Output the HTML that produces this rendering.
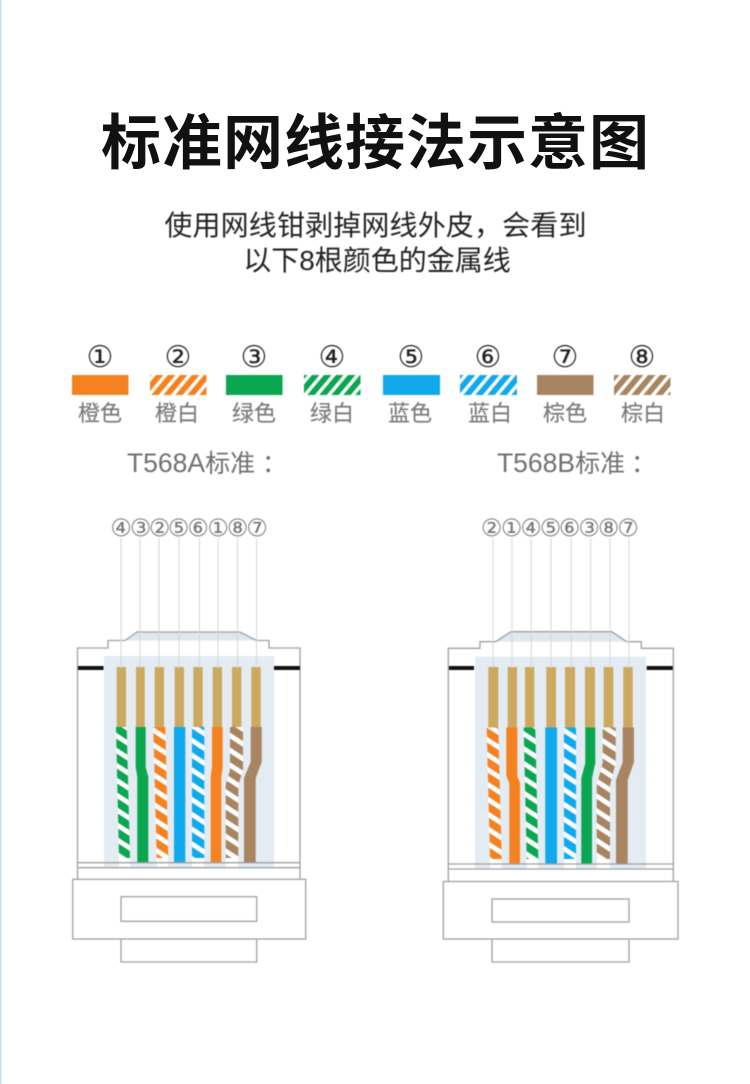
<!DOCTYPE html>
<html lang="zh">
<head>
<meta charset="utf-8">
<title>标准网线接法示意图</title>
<style>
html,body{margin:0;padding:0;background:#fff;width:750px;height:1084px;overflow:hidden}
svg{display:block}
text{font-family:"Liberation Sans","Noto Sans CJK SC",sans-serif}
.n{font-size:30px;fill:#222;text-anchor:middle;font-family:"DejaVu Sans","Noto Sans CJK SC",sans-serif}
.l{font-size:22px;fill:#7c7c7c;text-anchor:middle;stroke:#7c7c7c;stroke-width:.2}
.c{font-size:24px;fill:#777;text-anchor:middle;font-family:"DejaVu Sans","Noto Sans CJK SC",sans-serif}
.s{fill:none;stroke:#a0a0a0;stroke-width:1.3}
.t{stroke:#d6d6d6;stroke-width:1}
.g{fill:#cda85f}
.b{filter:blur(.45px)}
</style>
</head>
<body>
<svg width="750" height="1084" viewBox="0 0 750 1084" xmlns="http://www.w3.org/2000/svg">
<defs>
<pattern id="lo" width="12" height="20" patternUnits="userSpaceOnUse" patternTransform="translate(72,375) skewX(-40)"><rect width="12" height="20" fill="#fff"/><rect width="7.5" height="20" fill="#f58220"/></pattern>
<pattern id="lg" width="12" height="20" patternUnits="userSpaceOnUse" patternTransform="translate(72,375) skewX(-40)"><rect width="12" height="20" fill="#fff"/><rect width="7.5" height="20" fill="#0aa650"/></pattern>
<pattern id="lb" width="12" height="20" patternUnits="userSpaceOnUse" patternTransform="translate(72,375) skewX(-40)"><rect width="12" height="20" fill="#fff"/><rect width="7.5" height="20" fill="#10a9ec"/></pattern>
<pattern id="lr" width="12" height="20" patternUnits="userSpaceOnUse" patternTransform="translate(72,375) skewX(-40)"><rect width="12" height="20" fill="#fff"/><rect width="7.5" height="20" fill="#a88560"/></pattern>
<pattern id="wo" width="30" height="14.8" patternUnits="userSpaceOnUse" patternTransform="translate(100,728) skewY(33)"><rect width="30" height="9" fill="#f58220"/></pattern>
<pattern id="wg" width="30" height="14.8" patternUnits="userSpaceOnUse" patternTransform="translate(100,728) skewY(33)"><rect width="30" height="9" fill="#0aa650"/></pattern>
<pattern id="wb" width="30" height="14.8" patternUnits="userSpaceOnUse" patternTransform="translate(100,728) skewY(33)"><rect width="30" height="9" fill="#10a9ec"/></pattern>
<pattern id="wr" width="30" height="14.8" patternUnits="userSpaceOnUse" patternTransform="translate(100,728) skewY(33)"><rect width="30" height="9" fill="#a88560"/></pattern>
</defs>

<rect x="0" y="0" width="1.5" height="1084" fill="#c4dcf2"/>

<text x="375.5" y="164" text-anchor="middle" font-size="60" font-weight="700" fill="#111" letter-spacing="1">标准网线接法示意图</text>
<text class="b" x="375.5" y="235" text-anchor="middle" font-size="28" fill="#222" letter-spacing=".15">使用网线钳剥掉网线外皮，会看到</text>
<text class="b" x="377" y="270" text-anchor="middle" font-size="28" fill="#222">以下8根颜色的金属线</text>

<!-- legend -->
<g class="b">
<text class="n" x="100" y="367">①</text>
<text class="n" x="178" y="367">②</text>
<text class="n" x="254" y="367">③</text>
<text class="n" x="332" y="367">④</text>
<text class="n" x="411" y="367">⑤</text>
<text class="n" x="488" y="367">⑥</text>
<text class="n" x="565" y="367">⑦</text>
<text class="n" x="642" y="367">⑧</text>
<rect x="72" y="375" width="56.5" height="20" fill="#f58220"/>
<rect x="150" y="375" width="56.5" height="20" fill="url(#lo)"/>
<rect x="226" y="375" width="56.5" height="20" fill="#0aa650"/>
<rect x="304" y="375" width="56.5" height="20" fill="url(#lg)"/>
<rect x="383" y="375" width="57" height="20" fill="#10a9ec"/>
<rect x="460" y="375" width="57" height="20" fill="url(#lb)"/>
<rect x="537" y="375" width="56.5" height="20" fill="#a88560"/>
<rect x="614" y="375" width="56.5" height="20" fill="url(#lr)"/>
<text class="l" x="100" y="421">橙色</text>
<text class="l" x="177" y="421">橙白</text>
<text class="l" x="254" y="421">绿色</text>
<text class="l" x="332" y="421">绿白</text>
<text class="l" x="410" y="421">蓝色</text>
<text class="l" x="490" y="421">蓝白</text>
<text class="l" x="565" y="421">棕色</text>
<text class="l" x="643" y="421">棕白</text>

<text x="127" y="472" font-size="26.5" fill="#707070">T568A<tspan font-size="25">标准</tspan><tspan x="262" font-size="25">：</tspan></text>
<text x="497" y="472" font-size="26.5" fill="#707070">T568B<tspan font-size="25">标准</tspan><tspan x="631" font-size="25">：</tspan></text>
</g>

<!-- LEFT connector -->
<g class="b">
<rect x="104" y="656" width="170" height="211" fill="#e3ebf3"/>
<polygon points="125,640.5 137,632 240,632 256.5,640.5" fill="#dfe7ef"/>
<path class="s" d="M77.5,879V648H108V640.5H125L137,632H240L256.5,640.5H269V648H300V879"/>
<rect x="78" y="666" width="25.5" height="4" fill="#111"/>
<rect x="274" y="666" width="26" height="4" fill="#111"/>
<rect class="g" x="116.7" y="667" width="9.3" height="61"/>
<rect class="g" x="136" y="667" width="8.7" height="61"/>
<rect class="g" x="154.7" y="667" width="9.3" height="61"/>
<rect class="g" x="174.7" y="667" width="9.3" height="61"/>
<rect class="g" x="193.3" y="667" width="9.4" height="61"/>
<rect class="g" x="212.7" y="667" width="9.3" height="61"/>
<rect class="g" x="232" y="667" width="9.3" height="61"/>
<rect class="g" x="251.3" y="667" width="9.4" height="61"/>
<g class="t">
<line x1="121" y1="538" x2="121" y2="668"/><line x1="140" y1="538" x2="140" y2="668"/>
<line x1="159" y1="538" x2="159" y2="668"/><line x1="179" y1="538" x2="179" y2="668"/>
<line x1="199.5" y1="538" x2="199.5" y2="668"/><line x1="218" y1="538" x2="218" y2="668"/>
<line x1="237.5" y1="538" x2="237.5" y2="668"/><line x1="256.5" y1="538" x2="256.5" y2="668"/>
</g>
<!-- wires -->
<polygon points="116,727 126.7,727 130,867 119,867" fill="#fff"/>
<polygon points="116,727 126.7,727 130,858 119,858" fill="url(#wg)"/>
<polygon points="135.7,727 145.7,727 145.7,767 148.3,777 148.3,862.7 137.3,862.7 137.3,777 135.7,767" fill="#0aa650"/>
<polygon points="153.3,727 165.3,727 168.3,867 156.7,867" fill="#fff"/>
<polygon points="153.3,727 165.3,727 168.3,858 156.7,858" fill="url(#wo)"/>
<rect x="174" y="727" width="11.3" height="135.7" fill="#10a9ec"/>
<polygon points="192,727 204.3,727 204.3,867 192,867" fill="#fff"/>
<polygon points="192,727 204.3,727 204.3,858 192,858" fill="url(#wb)"/>
<polygon points="212,727 222.7,727 222.7,767 221.3,777 221.3,862.7 210.7,862.7 210.7,777 212,767" fill="#f58220"/>
<polygon points="230,727 243,727 243,770 238.3,785 238.3,867 225.7,867 225.7,785 230,770" fill="#fff"/>
<polygon points="230,727 243,727 243,770 238.3,785 238.3,858 225.7,858 225.7,785 230,770" fill="url(#wr)"/>
<polygon points="250.7,727 261.7,727 261.7,762 255.7,778 255.7,862.7 244,862.7 244,778 250.7,762" fill="#a88560"/>
<path class="s" d="M77.5,862.7H300M77.5,867.7H300"/>
<rect class="s" x="72.7" y="879.3" width="233" height="59.7"/>
<rect class="s" x="121" y="896.7" width="135.7" height="24.6"/>
<path class="s" d="M121,939V962H256.7V939"/>
<text class="c" x="121" y="536">④</text><text class="c" x="140.5" y="536">③</text>
<text class="c" x="159.5" y="536">②</text><text class="c" x="178.5" y="536">⑤</text>
<text class="c" x="198" y="536">⑥</text><text class="c" x="218" y="536">①</text>
<text class="c" x="237.5" y="536">⑧</text><text class="c" x="257" y="536">⑦</text>
</g>

<!-- RIGHT connector -->
<g class="b">
<rect x="475" y="656.7" width="171" height="212" fill="#e3ebf3"/>
<polygon points="495.7,641.7 511,631.7 611.7,631.7 626.7,641.7" fill="#dfe7ef"/>
<path class="s" d="M448.3,881V648.3H480V641.7H495.7L511,631.7H611.7L626.7,641.7H641.3V648.3H673.3V881"/>
<rect x="449" y="666" width="25" height="4" fill="#111"/>
<rect x="646.7" y="666" width="26" height="4" fill="#111"/>
<rect class="g" x="488.3" y="667" width="10" height="61"/>
<rect class="g" x="507.7" y="667" width="9.3" height="61"/>
<rect class="g" x="525" y="667" width="9.3" height="61"/>
<rect class="g" x="546.3" y="667" width="9.7" height="61"/>
<rect class="g" x="565" y="667" width="10" height="61"/>
<rect class="g" x="585" y="667" width="10" height="61"/>
<rect class="g" x="603.7" y="667" width="9.6" height="61"/>
<rect class="g" x="623.3" y="667" width="9.4" height="61"/>
<g class="t">
<line x1="493" y1="538" x2="493" y2="668"/><line x1="512" y1="538" x2="512" y2="668"/>
<line x1="531.3" y1="538" x2="531.3" y2="668"/><line x1="551" y1="538" x2="551" y2="668"/>
<line x1="571.3" y1="538" x2="571.3" y2="668"/><line x1="590.7" y1="538" x2="590.7" y2="668"/>
<line x1="610" y1="538" x2="610" y2="668"/><line x1="629" y1="538" x2="629" y2="668"/>
</g>
<polygon points="486.7,727.5 498.3,727.5 501.7,869 490,869" fill="#fff"/>
<polygon points="486.7,727.5 498.3,727.5 501.7,859 490,859" fill="url(#wo)"/>
<polygon points="506.3,727.5 517.3,727.5 517.3,776 520,783 520,864 509.3,864 509.3,783 506.3,776" fill="#f58220"/>
<polygon points="523.7,727.5 535.3,727.5 538.3,869 526.7,869" fill="#fff"/>
<polygon points="523.7,727.5 535.3,727.5 538.3,859 526.7,859" fill="url(#wg)"/>
<rect x="545.3" y="727.5" width="11.7" height="136.5" fill="#10a9ec"/>
<polygon points="564,727.5 576,727.5 576,869 564,869" fill="#fff"/>
<polygon points="564,727.5 576,727.5 576,859 564,859" fill="url(#wb)"/>
<polygon points="585.3,727.5 595.3,727.5 595.3,763 592,778 592,864 581.3,864 581.3,778 585.3,763" fill="#0aa650"/>
<polygon points="602.7,727.5 615.7,727.5 615.7,763 610,785 610,869 596.7,869 596.7,785 602.7,763" fill="#fff"/>
<polygon points="602.7,727.5 615.7,727.5 615.7,763 610,785 610,859 596.7,859 596.7,785 602.7,763" fill="url(#wr)"/>
<polygon points="622.7,727.5 634,727.5 634,762 627.7,780 627.7,864 616,864 616,780 622.7,762" fill="#a88560"/>
<path class="s" d="M448.3,864H673.3M448.3,869H673.3"/>
<rect class="s" x="443.3" y="881.5" width="234.7" height="57.5"/>
<rect class="s" x="492" y="899" width="137" height="23"/>
<path class="s" d="M492,939V962H629V939"/>
<text class="c" x="491.5" y="536">②</text><text class="c" x="511.5" y="536">①</text>
<text class="c" x="531" y="536">④</text><text class="c" x="550.5" y="536">⑤</text>
<text class="c" x="569.5" y="536">⑥</text><text class="c" x="589" y="536">③</text>
<text class="c" x="608.5" y="536">⑧</text><text class="c" x="628" y="536">⑦</text>
</g>
</svg>
</body>
</html>
